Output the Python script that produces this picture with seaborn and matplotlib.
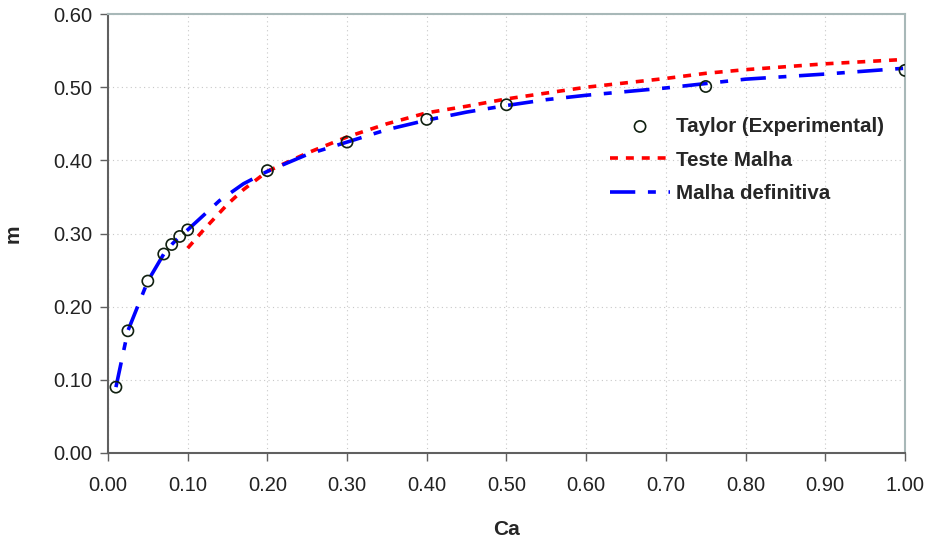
import matplotlib
matplotlib.use("Agg")
import matplotlib.pyplot as plt
import numpy as np
import seaborn as sns

# Taylor experimental points
taylor_ca = [0.01, 0.025, 0.05, 0.07, 0.08, 0.09, 0.10, 0.20, 0.30, 0.40, 0.50, 0.75, 1.00]
taylor_m = [0.090, 0.167, 0.235, 0.272, 0.285, 0.296, 0.305, 0.386, 0.425, 0.456, 0.476, 0.501, 0.523]

# Teste Malha (red dotted)
teste_ca = [0.10, 0.12, 0.15, 0.17, 0.20, 0.25, 0.30, 0.35, 0.40, 0.45, 0.50,
            0.55, 0.60, 0.70, 0.75, 0.80, 0.90, 1.00]
teste_m = [0.280, 0.305, 0.340, 0.360, 0.385, 0.410, 0.432, 0.450, 0.465, 0.474, 0.484,
           0.492, 0.500, 0.512, 0.519, 0.524, 0.532, 0.538]

# Malha definitiva (blue dash-dot)
defin_ca = [0.01, 0.025, 0.05, 0.07, 0.08, 0.09, 0.10, 0.12, 0.14, 0.17, 0.20, 0.25,
            0.30, 0.35, 0.40, 0.45, 0.50, 0.55, 0.60, 0.70, 0.80, 0.90, 1.00]
defin_m = [0.090, 0.167, 0.235, 0.272, 0.285, 0.296, 0.305, 0.325, 0.345, 0.368, 0.385, 0.408,
           0.425, 0.442, 0.455, 0.466, 0.475, 0.483, 0.489, 0.499, 0.511, 0.518, 0.526]

sns.set_style("white")
plt.rcParams['font.family'] = ['Liberation Sans', 'DejaVu Sans']

fig = plt.figure(figsize=(9.26, 5.41), dpi=100)
ax = fig.add_axes([0.1166, 0.1627, 0.8607, 0.8113])

sns.lineplot(x=teste_ca, y=teste_m, ax=ax, color="#ff0000", linewidth=2.6,
             linestyle=(0, (2.2, 2.2)), sort=False, label="Teste Malha")
sns.lineplot(x=defin_ca, y=defin_m, ax=ax, color="#0000ff", linewidth=2.6,
             linestyle=(0, (7, 3.5, 2.2, 3.5)), sort=False, label="Malha definitiva")
sns.scatterplot(x=taylor_ca, y=taylor_m, ax=ax, marker="o", s=65, facecolor="none",
                edgecolor="#102010", linewidth=1.2, label="Taylor (Experimental)", zorder=5)

ax.set_xlim(0, 1.0)
ax.set_ylim(0, 0.6)
ax.set_xticks(np.arange(0, 1.01, 0.1))
ax.set_yticks(np.arange(0, 0.61, 0.1))
ax.set_xticklabels([f"{v:.2f}" for v in np.arange(0, 1.01, 0.1)])
ax.set_yticklabels([f"{v:.2f}" for v in np.arange(0, 0.61, 0.1)])
ax.tick_params(axis="both", direction="out", length=5.5, width=1, color="#606060",
               labelsize=14.5, labelcolor="#222222", bottom=True, left=True)
ax.tick_params(axis="x", pad=11)
ax.tick_params(axis="y", pad=6)
ax.grid(True, color="#c8c8c8", linestyle=(0, (1, 3)), linewidth=0.8)

for side in ["left", "bottom"]:
    ax.spines[side].set_color("#606060")
    ax.spines[side].set_linewidth(1.5)
for side in ["top", "right"]:
    ax.spines[side].set_color("#a8b8b8")
    ax.spines[side].set_linewidth(1.5)

ax.set_xlabel("Ca", fontsize=15, fontweight="bold", labelpad=18)
ax.set_ylabel("m", fontsize=15, fontweight="bold", labelpad=22)

handles, labels = ax.get_legend_handles_labels()
order = [2, 0, 1]
ax.legend([handles[i] for i in order], [labels[i] for i in order],
          loc="upper left", bbox_to_anchor=(0.607, 0.808), frameon=False,
          prop={"weight": "bold", "size": 14.8}, labelspacing=0.72,
          handlelength=2.9, handletextpad=0.3)

fig.savefig("out.png", dpi=100)
